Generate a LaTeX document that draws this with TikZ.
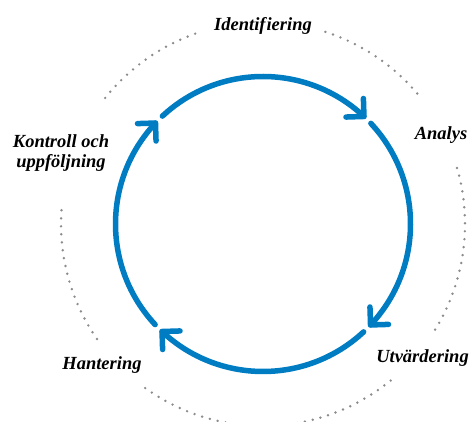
\documentclass[tikz,border=0pt]{standalone}
\usepackage{fontspec}
\setmainfont{Liberation Serif}
\definecolor{cycleblue}{RGB}{0,124,195}
\definecolor{dotgray}{RGB}{140,140,140}
\tikzset{
  cyclearc/.style={draw=cycleblue, line width=5.5pt, line cap=round, line join=round},
  dotarc/.style={draw=dotgray, line width=2.7pt, line cap=round, dash pattern=on 0pt off 8pt},
  phase/.style={font=\fontsize{18.5}{20}\selectfont\bfseries\itshape, inner sep=0pt, text=black},
}
\begin{document}
\begin{tikzpicture}[x=1pt,y=1pt]
\useasboundingbox (0,0) rectangle (473,422);
\coordinate (c) at (263,198);
% dotted outer ring
\draw[dotarc] (c) ++(141.4:202) arc[start angle=141.4, end angle=108.5, radius=202];
\draw[dotarc] (c) ++(72:202) arc[start angle=72, end angle=39.1, radius=202];
\draw[dotarc] (c) ++(16.1:202) arc[start angle=16.1, end angle=-32.1, radius=202];
\draw[dotarc] (c) ++(-50.8:202) arc[start angle=-50.8, end angle=-126.5, radius=202];
\draw[dotarc] (c) ++(214.7:202) arc[start angle=214.7, end angle=174.1, radius=202];
% blue cycle arcs
\path (c) ++(46.8:147.5) coordinate (tipA);
\path (c) ++(-43.2:147.5) coordinate (tipB);
\path (c) ++(-133.2:147.5) coordinate (tipC);
\path (c) ++(136.8:147.5) coordinate (tipD);
\draw[cyclearc] (c) ++(133:147.5) arc[start angle=133, end angle=46.8, radius=147.5];
\draw[cyclearc] (c) ++(43:147.5) arc[start angle=43, end angle=-43.2, radius=147.5];
\draw[cyclearc] (c) ++(-47:147.5) arc[start angle=-47, end angle=-133.2, radius=147.5];
\draw[cyclearc] (c) ++(223:147.5) arc[start angle=223, end angle=136.8, radius=147.5];
% arrowheads
\draw[cyclearc] (tipA) ++(91.8:18) -- (tipA) -- ++(181.8:18);
\draw[cyclearc] (tipB) ++(1.8:18) -- (tipB) -- ++(91.8:18);
\draw[cyclearc] (tipC) ++(-88.2:18) -- (tipC) -- ++(1.8:18);
\draw[cyclearc] (tipD) ++(181.8:18) -- (tipD) -- ++(271.8:18);
% labels
\node[phase, anchor=base] (identifiering) at (263,391.5) {Identif\kern1pt iering};
\node[phase, anchor=base] (analys) at (441,282.7) {Analys};
\node[phase, anchor=base] (utvardering) at (422.5,59) {Utvärdering};
\node[phase, anchor=base] (hantering) at (102,52) {Hantering};
\node[phase, anchor=north, align=center] (kontroll) at (61,287.5) {Kontroll och\\uppföljning};
\end{tikzpicture}
\end{document}
